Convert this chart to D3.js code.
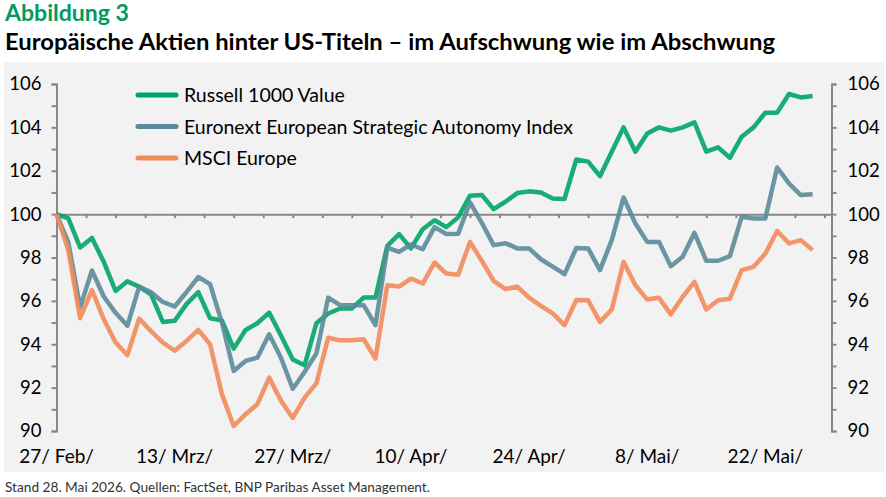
<!DOCTYPE html>
<html>
<head>
<meta charset="utf-8">
<script src="https://cdn.jsdelivr.net/npm/d3@7"></script>
<style>
  body { margin: 0; background: #fff; }
  svg text { font-family: Lato, "Open Sans", sans-serif; }
</style>
</head>
<body>
<svg id="chart" width="886" height="497"></svg>
<script>
// trading days, 27 Feb to 28 May 2026
const dates = [
  '2026-02-27',
  '2026-03-02','2026-03-03','2026-03-04','2026-03-05','2026-03-06',
  '2026-03-09','2026-03-10','2026-03-11','2026-03-12','2026-03-13',
  '2026-03-16','2026-03-17','2026-03-18','2026-03-19','2026-03-20',
  '2026-03-23','2026-03-24','2026-03-25','2026-03-26','2026-03-27',
  '2026-03-30','2026-03-31','2026-04-01','2026-04-02','2026-04-03',
  '2026-04-06','2026-04-07','2026-04-08','2026-04-09','2026-04-10',
  '2026-04-13','2026-04-14','2026-04-15','2026-04-16','2026-04-17',
  '2026-04-20','2026-04-21','2026-04-22','2026-04-23','2026-04-24',
  '2026-04-27','2026-04-28','2026-04-29','2026-04-30','2026-05-01',
  '2026-05-04','2026-05-05','2026-05-06','2026-05-07','2026-05-08',
  '2026-05-11','2026-05-12','2026-05-13','2026-05-14','2026-05-15',
  '2026-05-18','2026-05-19','2026-05-20','2026-05-21','2026-05-22',
  '2026-05-25','2026-05-26','2026-05-27','2026-05-28'
];

const russell = [100, 99.8, 98.46, 98.9, 97.8, 96.46, 96.9, 96.65, 96.3, 95.03,
  95.08, 95.85, 96.4, 95.2, 95.1, 93.8, 94.66, 94.97, 95.46, 94.4,
  93.3, 93.03, 94.97, 95.42, 95.65, 95.65, 96.15, 96.15, 98.54, 99.08,
  98.42, 99.3, 99.72, 99.4, 99.85, 100.85, 100.88, 100.23, 100.57, 100.97,
  101.05, 101.0, 100.72, 100.7, 102.52, 102.42, 101.75, 102.88, 104.0, 102.88,
  103.72, 104.0, 103.85, 104.0, 104.23, 102.88, 103.08, 102.6, 103.57, 104.0,
  104.68, 104.68, 105.54, 105.38, 105.45];

const euronext = [100, 98.7, 95.7, 97.4, 96.2, 95.45, 94.85, 96.66, 96.4, 95.95,
  95.74, 96.4, 97.1, 96.77, 95.0, 92.77, 93.23, 93.38, 94.46, 93.38,
  91.95, 92.72, 93.58, 96.15, 95.8, 95.8, 95.8, 94.88, 98.46, 98.26,
  98.6, 98.38, 99.4, 99.08, 99.1, 100.54, 99.6, 98.57, 98.66, 98.42,
  98.42, 97.92, 97.58, 97.23, 98.44, 98.42, 97.42, 98.8, 100.77, 99.57,
  98.72, 98.72, 97.6, 98.03, 99.14, 97.85, 97.85, 98.06, 99.88, 99.8,
  99.8, 102.15, 101.42, 100.88, 100.92];

const msci = [100, 98.34, 95.2, 96.5, 95.15, 94.08, 93.5, 95.18, 94.6, 94.08,
  93.7, 94.15, 94.66, 94.0, 91.7, 90.23, 90.77, 91.23, 92.46, 91.4,
  90.6, 91.54, 92.2, 94.3, 94.18, 94.18, 94.23, 93.34, 96.72, 96.66,
  97.03, 96.8, 97.77, 97.26, 97.2, 98.72, 97.85, 96.92, 96.54, 96.66,
  96.15, 95.77, 95.42, 94.88, 96.04, 96.03, 95.03, 95.6, 97.8, 96.72,
  96.06, 96.14, 95.38, 96.18, 96.88, 95.6, 96.03, 96.1, 97.42, 97.57,
  98.18, 99.22, 98.65, 98.8, 98.34];

const seriesNames = ['Russell 1000 Value', 'Euronext European Strategic Autonomy Index', 'MSCI Europe'];
const tickLabels = ['27/ Feb/', '13/ Mrz/', '27/ Mrz/', '10/ Apr/', '24/ Apr/', '8/ Mai/', '22/ Mai/'];
const yTicks = [90, 91, 92, 93, 94, 95, 96, 97, 98, 99, 100, 101, 102, 103, 104, 105, 106];

const colors = ['#00a468', '#5b8b9a', '#f28b5b'];

const svg = d3.select('#chart');

// panel background
svg.append('rect')
  .attr('x', 4).attr('y', 62)
  .attr('width', 880).attr('height', 410)
  .attr('fill', '#f2f2f2');

// headings
svg.append('text')
  .attr('x', 5).attr('y', 21)
  .attr('font-size', 22).attr('font-weight', 'bold')
  .attr('fill', '#009a5e')
  .attr('textLength', 124).attr('lengthAdjust', 'spacingAndGlyphs')
  .text('Abbildung 3');
svg.append('text')
  .attr('x', 5).attr('y', 50)
  .attr('font-size', 23).attr('font-weight', 'bold')
  .attr('fill', '#000')
  .attr('textLength', 770).attr('lengthAdjust', 'spacingAndGlyphs')
  .text('Europäische Aktien hinter US-Titeln – im Aufschwung wie im Abschwung');
svg.append('text')
  .attr('x', 5).attr('y', 492)
  .attr('font-size', 13.5)
  .attr('fill', '#333')
  .attr('textLength', 425).attr('lengthAdjust', 'spacingAndGlyphs')
  .text('Stand 28. Mai 2026. Quellen: FactSet, BNP Paribas Asset Management.');

var x = d3.scaleLinear().domain([0, 65.6]).range([56.5, 831.5]);
var y = d3.scaleLinear().domain([90, 106]).range([431, 84]);

// y axes left and right
var yLeft = svg.append('g')
  .attr('transform', 'translate(' + x(0) + ',0)')
  .call(d3.axisLeft(y).tickValues(yTicks).tickSize(5).tickPadding(10)
    .tickFormat(d => d % 2 == 0 ? d : ''));
var yRight = svg.append('g')
  .attr('transform', 'translate(' + x(65.6) + ',0)')
  .call(d3.axisRight(y).tickValues(yTicks).tickSize(5).tickPadding(11)
    .tickFormat(d => d % 2 == 0 ? d : ''));

// horizontal axis crossing at 100
var xTicks = d3.range(0, 65.6, 2.5).slice(1);
var xAxis = svg.append('g')
  .attr('transform', 'translate(0,' + y(100) + ')')
  .call(d3.axisBottom(x).tickValues(xTicks).tickSize(4).tickFormat(''));

[yLeft, yRight, xAxis].forEach(function(a) {
  a.select('.domain').attr('stroke', '#888').attr('stroke-width', 2);
  a.selectAll('.tick line').attr('stroke', '#888').attr('stroke-width', 2);
  a.selectAll('.tick text').attr('font-size', 18.5).attr('fill', '#000')
    .style('font-family', 'Lato, sans-serif');
});

// date labels every two weeks
svg.append('g').selectAll('text')
  .data(tickLabels)
  .enter().append('text')
  .attr('x', (d, i) => x(i * 10))
  .attr('y', 463)
  .attr('text-anchor', 'middle')
  .attr('font-size', 19)
  .attr('fill', '#000')
  .text(d => d);

// lines
var line = d3.line()
  .x((d, i) => x(i))
  .y(d => y(d));

[russell, euronext, msci].forEach(function(s, k) {
  svg.append('path')
    .datum(s)
    .attr('d', line)
    .attr('fill', 'none')
    .attr('stroke', colors[k])
    .attr('stroke-width', 4.5)
    .attr('stroke-linejoin', 'round')
    .attr('opacity', 0.9);
});

// legend
var legend = svg.append('g').attr('transform', 'translate(138,95)');
seriesNames.forEach(function(name, k) {
  var row = legend.append('g').attr('transform', 'translate(0,' + (k * 31.5) + ')');
  row.append('line')
    .attr('x1', 0).attr('x2', 38).attr('y1', 0).attr('y2', 0)
    .attr('stroke', colors[k]).attr('stroke-width', 5)
    .attr('stroke-linecap', 'round');
  row.append('text')
    .attr('x', 46).attr('y', 7)
    .attr('font-size', 19.5)
    .attr('fill', '#000')
    .text(name);
});
</script>
</body>
</html>
